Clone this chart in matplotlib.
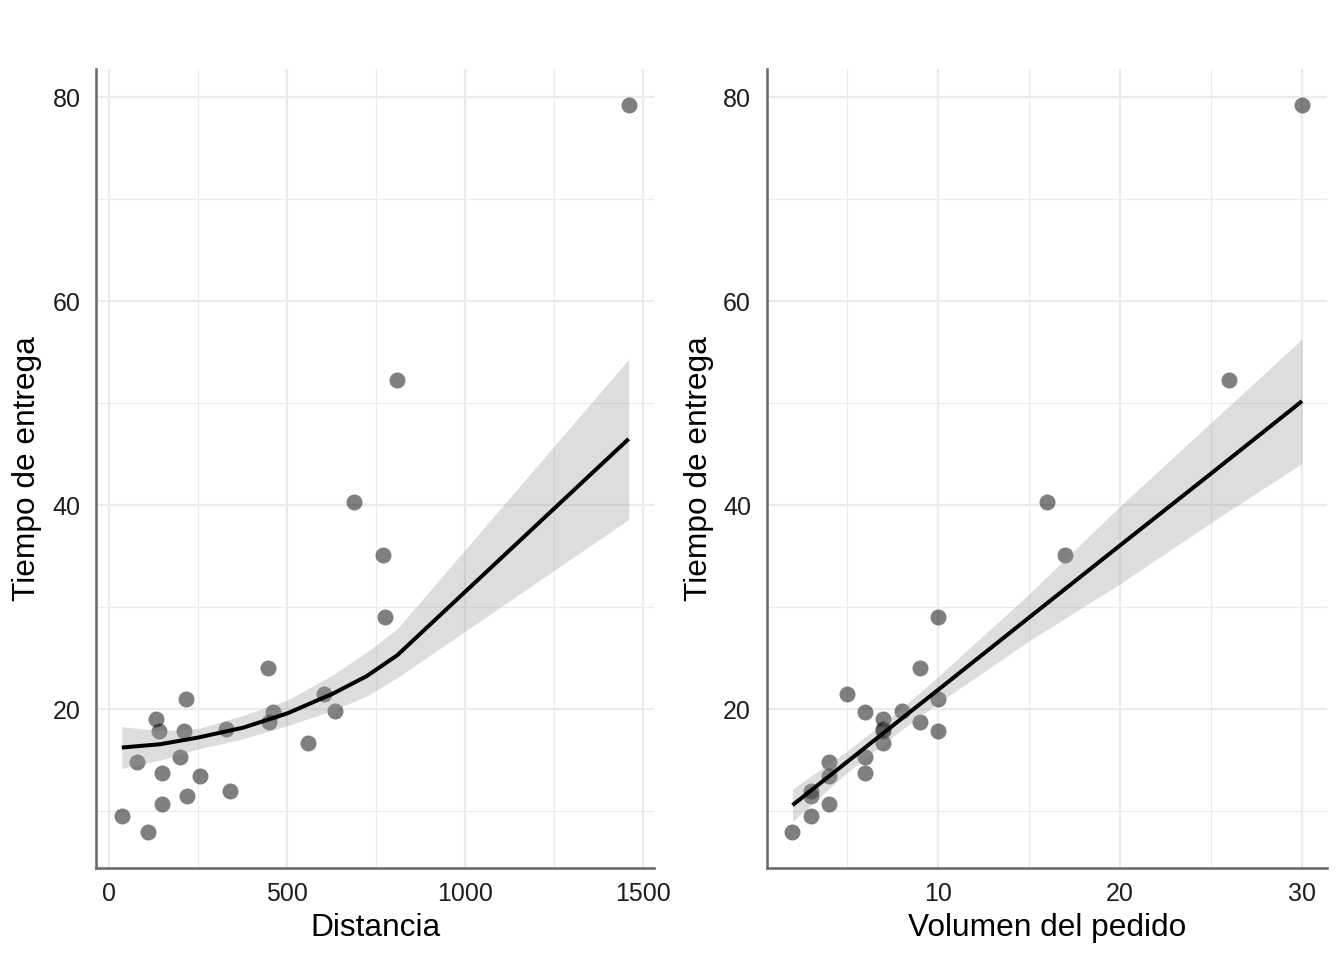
import matplotlib
matplotlib.use("Agg")
import matplotlib.pyplot as plt
from matplotlib.ticker import MultipleLocator
import numpy as np

plt.rcParams["font.family"] = ["Liberation Sans", "DejaVu Sans"]

# ── Datos (tiempo de entrega) ────────────────────────────────────────────────
tiempo    = [16.68, 11.50, 12.03, 14.88, 13.75, 18.11, 8.00, 17.83, 79.24, 21.50,
             40.33, 21.00, 13.50, 19.75, 24.00, 29.00, 15.35, 19.00, 9.50, 35.10,
             17.90, 52.32, 18.75, 19.83, 10.75]
volumen   = [7, 3, 3, 4, 6, 7, 2, 7, 30, 5, 16, 10, 4, 6, 9, 10, 6, 7, 3, 17,
             10, 26, 9, 8, 4]
distancia = [560, 220, 340, 80, 150, 330, 110, 210, 1460, 605, 688, 215, 255, 462,
             448, 776, 200, 132, 36, 770, 140, 810, 450, 635, 150]

# curva suavizada — distancia
dist_x   = [36, 143, 249, 377, 501, 630, 724, 810, 1460]
dist_fit = [16.25, 16.57, 17.22, 18.2, 19.6, 21.55, 23.25, 25.3, 46.5]
dist_lo  = [14.2, 15.0, 16.1, 17.1, 18.4, 19.9, 21.3, 23.1, 38.6]
dist_hi  = [18.3, 17.9, 18.1, 19.4, 20.9, 23.4, 25.6, 27.9, 54.3]

# recta ajustada — volumen
vol_x   = [2, 5, 8, 10, 15, 20, 25, 30]
vol_fit = [10.6, 14.84, 19.09, 21.9, 28.99, 36.06, 43.1, 50.2]
vol_lo  = [9.0, 13.8, 18.0, 20.6, 26.7, 32.3, 38.3, 44.1]
vol_hi  = [12.2, 15.9, 20.1, 23.2, 31.3, 39.9, 48.1, 56.3]

C_POINT  = "black"
C_RIBBON = "#999999"
C_GRID   = "#ebebeb"
C_AXIS   = "#6b6b6b"


def panel(ax, x, y, sx, sfit, slo, shi, xlabel, major, minor, xlim):
    ax.scatter(x, y, s=64, color=C_POINT, alpha=0.5, linewidths=0, zorder=3)
    ax.fill_between(sx, slo, shi, color=C_RIBBON, alpha=0.33, lw=0, zorder=4)
    ax.plot(sx, sfit, color="black", lw=2, zorder=5, solid_capstyle="butt")

    ax.set_xlim(*xlim)
    ax.set_ylim(4.44, 82.8)
    ax.xaxis.set_major_locator(MultipleLocator(major))
    ax.xaxis.set_minor_locator(MultipleLocator(minor))
    ax.yaxis.set_major_locator(MultipleLocator(20))
    ax.yaxis.set_minor_locator(MultipleLocator(10))
    ax.grid(which="major", color=C_GRID, lw=1.1, zorder=0)
    ax.grid(which="minor", color=C_GRID, lw=0.6, zorder=0)
    ax.set_axisbelow(True)

    for side in ["top", "right"]:
        ax.spines[side].set_visible(False)
    for side in ["left", "bottom"]:
        ax.spines[side].set_color(C_AXIS)
        ax.spines[side].set_linewidth(1.3)

    ax.tick_params(which="both", length=0, labelsize=12.5, labelcolor="#1e1e1e")
    ax.tick_params(axis="y", pad=8)
    ax.tick_params(axis="x", pad=7)
    ax.set_xlabel(xlabel, fontsize=15.8)
    ax.set_ylabel("Tiempo de entrega", fontsize=15.8)


fig = plt.figure(figsize=(1344 / 144, 960 / 144), dpi=144)
ax1 = fig.add_axes([0.0718, 0.0958, 0.4148, 0.8328])
ax2 = fig.add_axes([0.5707, 0.0958, 0.4170, 0.8328])

panel(ax1, distancia, tiempo, dist_x, dist_fit, dist_lo, dist_hi,
      "Distancia", 500, 250, (-35.2, 1531.2))
panel(ax2, volumen, tiempo, vol_x, vol_fit, vol_lo, vol_hi,
      "Volumen del pedido", 10, 5, (0.6, 31.4))

ax1.yaxis.set_label_coords(-0.098, 0.5)
ax2.yaxis.set_label_coords(-0.095, 0.5)
ax1.xaxis.set_label_coords(0.5, -0.056)
ax2.xaxis.set_label_coords(0.5, -0.056)

fig.savefig("out.png", dpi=144)
plt.close(fig)
